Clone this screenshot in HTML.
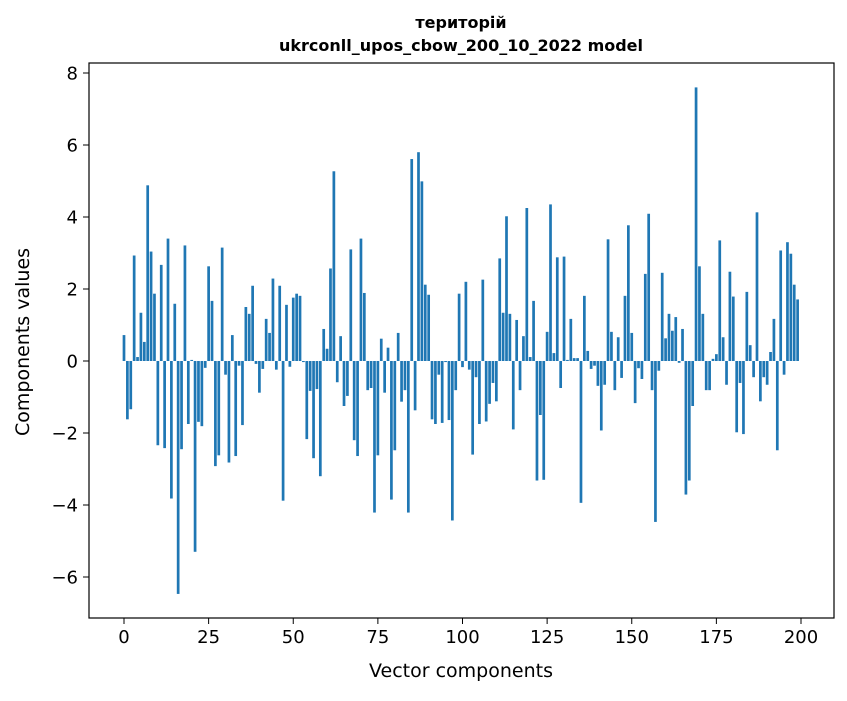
<!DOCTYPE html>
<html><head><meta charset="utf-8"><style>
body{margin:0;background:#fff;}
svg text{font-family:"DejaVu Sans","Liberation Sans",sans-serif;fill:#000;}
</style></head><body>
<svg id="chart" width="847" height="696" xmlns="http://www.w3.org/2000/svg">
<rect width="847" height="696" fill="#fff"/>
<text x="461" y="28" text-anchor="middle" font-size="16" font-weight="bold">територій</text>
<text x="461" y="51" text-anchor="middle" font-size="16" font-weight="bold">ukrconll_upos_cbow_200_10_2022 model</text>
<g id="bars"></g>
<g id="xticks"></g>
<g id="yticks"></g>
<rect x="89" y="63" width="745" height="555" fill="none" stroke="#000" stroke-width="1.2"/>
<text x="461" y="677" text-anchor="middle" font-size="19">Vector components</text>
<text transform="translate(29,342) rotate(-90)" text-anchor="middle" font-size="19">Components values</text>
</svg>
<script>
const values=[0.72,-1.62,-1.34,2.93,0.11,1.34,0.53,4.88,3.04,1.87,-2.34,2.67,-2.42,3.40,-3.82,1.59,-6.47,-2.45,3.21,-1.75,0.03,-5.30,-1.69,-1.81,-0.19,2.63,1.67,-2.92,-2.62,3.15,-0.38,-2.82,0.72,-2.64,-0.13,-1.78,1.50,1.31,2.09,-0.08,-0.88,-0.22,1.17,0.78,2.29,-0.24,2.09,-3.88,1.56,-0.16,
1.76,1.87,1.81,-0.03,-2.17,-0.83,-2.70,-0.78,-3.20,0.89,0.34,2.57,5.27,-0.59,0.69,-1.25,-0.97,3.10,-2.20,-2.64,3.40,1.89,-0.81,-0.75,-4.21,-2.62,0.62,-0.88,0.37,-3.85,-2.48,0.78,-1.13,-0.81,-4.21,5.61,-1.37,5.80,4.99,2.12,1.84,-1.62,-1.75,-0.38,-1.72,-0.03,-1.64,-4.43,-0.81,1.87,
-0.17,2.20,-0.24,-2.60,-0.45,-1.75,2.26,-1.68,-1.19,-0.61,-1.12,2.85,1.34,4.02,1.31,-1.90,1.14,-0.81,0.69,4.25,0.11,1.67,-3.32,-1.50,-3.30,0.81,4.35,0.22,2.88,-0.75,2.90,0.03,1.17,0.08,0.08,-3.94,1.81,0.28,-0.22,-0.13,-0.69,-1.93,-0.66,3.38,0.81,-0.81,0.66,-0.47,1.81,3.77,
0.78,-1.17,-0.20,-0.50,2.42,4.09,-0.81,-4.47,-0.27,2.45,0.63,1.31,0.84,1.22,-0.05,0.89,-3.71,-3.32,-1.25,7.60,2.63,1.31,-0.81,-0.81,0.06,0.19,3.35,0.66,-0.66,2.48,1.79,-1.98,-0.61,-2.03,1.92,0.44,-0.45,4.13,-1.12,-0.45,-0.66,0.25,1.17,-2.48,3.07,-0.38,3.30,2.98,2.12,1.71];
const xTickLabels=[0,25,50,75,100,125,150,175,200];
const yTickLabels=[-6,-4,-2,0,2,4,6,8];
const NS="http://www.w3.org/2000/svg";
function xs(v){return 124+(v)*(677/200);}
function ys(v){return 361-v*36;}
const bars=document.getElementById('bars');
values.forEach((v,i)=>{
  const r=document.createElementNS(NS,'rect');
  
  
  const x0=xs(i-0.4),x1=xs(i+0.4);
  r.setAttribute('x',x0);r.setAttribute('width',x1-x0);
  r.setAttribute('y',Math.min(ys(v),ys(0)));r.setAttribute('height',Math.abs(ys(v)-ys(0)));
  r.setAttribute('fill','#1f77b4');
  bars.appendChild(r);
});
const xg=document.getElementById('xticks');
xTickLabels.forEach(t=>{
  const x=xs(t);
  const l=document.createElementNS(NS,'line');
  
  
  l.setAttribute('x1',x);l.setAttribute('x2',x);l.setAttribute('y1',618);l.setAttribute('y2',624);l.setAttribute('stroke','#000');
  xg.appendChild(l);
  const tx=document.createElementNS(NS,'text');
  
  
  tx.setAttribute('x',x);tx.setAttribute('y',643);tx.setAttribute('text-anchor','middle');tx.setAttribute('font-size','18');
  tx.textContent=t;xg.appendChild(tx);
});
const yg=document.getElementById('yticks');
yTickLabels.forEach(t=>{
  const y=ys(t);
  const l=document.createElementNS(NS,'line');
  
  
  l.setAttribute('x1',83);l.setAttribute('x2',89);l.setAttribute('y1',y);l.setAttribute('y2',y);l.setAttribute('stroke','#000');
  yg.appendChild(l);
  const tx=document.createElementNS(NS,'text');
  
  
  tx.setAttribute('x',78);tx.setAttribute('y',y+6.5);tx.setAttribute('text-anchor','end');tx.setAttribute('font-size','18');
  tx.textContent=(t<0?'\u2212'+Math.abs(t):t);yg.appendChild(tx);
});
</script>
</body></html>
